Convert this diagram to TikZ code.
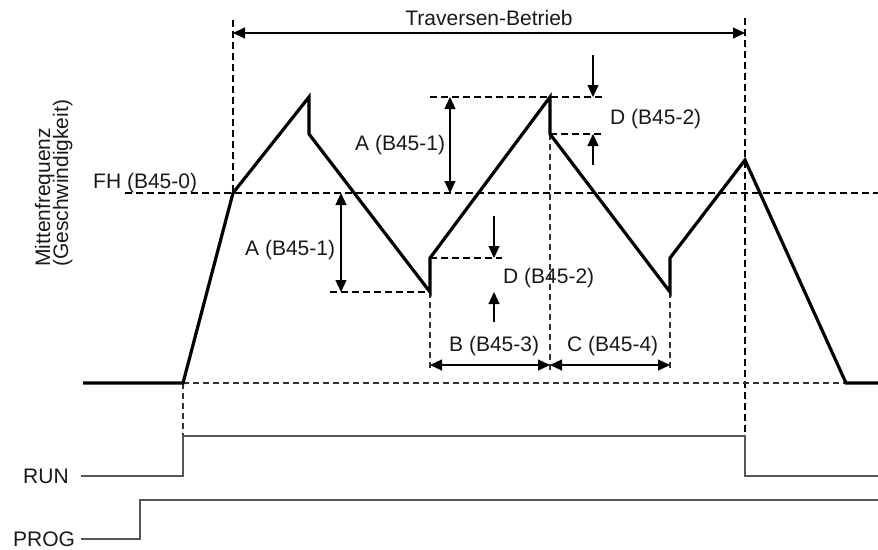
\documentclass[tikz,border=0pt]{standalone}
\usepackage{fontspec}
\setmainfont{Liberation Sans}
\usetikzlibrary{arrows.meta}
\definecolor{sig}{HTML}{555555}
\definecolor{dgrey}{HTML}{333333}
\tikzset{
  lbl/.style={inner sep=0pt, font=\fontsize{21}{23}\selectfont, text=black!90},
  curve/.style={line width=3.2pt, line join=miter, black},
  dsh/.style={line width=1.3pt, dash pattern=on 7pt off 4pt, black},
  dshthin/.style={line width=1.1pt, dash pattern=on 6pt off 4pt, dgrey},
  dim/.style={line width=1.2pt, black},
  tip/.tip={Triangle[length=12pt,width=11pt]},
  signal/.style={line width=1.3pt, sig},
}
\begin{document}
\begin{tikzpicture}[x=1pt,y=-1pt]
\useasboundingbox (0,0) rectangle (878,549);
% curve points
\coordinate (c0) at (83,383);
\coordinate (c1) at (183,383);
\coordinate (c2) at (233,193);
\coordinate (c3) at (309,97);
\coordinate (c4) at (309,134);
\coordinate (c5) at (430,292);
\coordinate (c6) at (430,258);
\coordinate (c7) at (550,97);
\coordinate (c8) at (550,134);
\coordinate (c9) at (670,292);
\coordinate (c10) at (670,258);
\coordinate (c11) at (745,160);
\coordinate (c12) at (846,383);
\coordinate (c13) at (878,383);
% helper coordinates
\coordinate (fhL) at (125,193);
\coordinate (fhR) at (878,193);
\coordinate (v1t) at (233,20);
\coordinate (v2t) at (745,18);
\coordinate (v2b) at (745,436);
\coordinate (v0b) at (183,436);
\coordinate (pkL) at (430,97);
\coordinate (pkR) at (605,97);
\coordinate (dpR) at (605,134);
\coordinate (bB) at (430,370);
\coordinate (mB) at (550,370);
\coordinate (cB) at (670,370);
\coordinate (lowR) at (502,258);
\coordinate (minL) at (330,292);
\coordinate (trL) at (233,33);
\coordinate (trR) at (745,33);
\coordinate (aU1) at (450,97);
\coordinate (aU2) at (450,193);
\coordinate (aL1) at (341,193);
\coordinate (aL2) at (341,292);
\coordinate (dU0) at (593,55);
\coordinate (dU1) at (593,97);
\coordinate (dU2) at (593,134);
\coordinate (dU3) at (593,165);
\coordinate (dL0) at (494,216);
\coordinate (dL1) at (494,258);
\coordinate (dL2) at (494,292);
\coordinate (dL3) at (494,322);
\coordinate (bL) at (430,365);
\coordinate (bM) at (550,365);
\coordinate (bR) at (670,365);
\coordinate (r0) at (81,476);
\coordinate (r1) at (183,476);
\coordinate (r2) at (183,436);
\coordinate (r3) at (745,436);
\coordinate (r4) at (745,476);
\coordinate (r5) at (878,476);
\coordinate (p0) at (81,539);
\coordinate (p1) at (140,539);
\coordinate (p2) at (140,500);
\coordinate (p3) at (878,500);

% dashed guide lines
\draw[dsh] (fhL) -- (fhR);
\draw[dsh] (v1t) -- (c2);
\draw[dsh] (v2t) -- (v2b);
\draw[dshthin] (c1) -- (c12);
\draw[dshthin] (c1) -- (v0b);
\draw[dsh] (pkL) -- (pkR);
\draw[dsh] (c8) -- (dpR);
\draw[dshthin] (c8) -- (mB);
\draw[dshthin] (c5) -- (bB);
\draw[dshthin] (c9) -- (cB);
\draw[dsh] (c6) -- (lowR);
\draw[dsh] (minL) -- (c5);

% main curve
\draw[curve] (c0) -- (c1) -- (c2) -- (c3) -- (c4) -- (c5) -- (c6) -- (c7) -- (c8)
  -- (c9) -- (c10) -- (c11) -- (c12) -- (c13);

% dimension arrows
\draw[dim, tip-tip] (trL) -- (trR);
\draw[dim, tip-tip] (aU1) -- (aU2);
\draw[dim, tip-tip] (aL1) -- (aL2);
\draw[dim, -tip] (dU0) -- (dU1);
\draw[dim, -tip] (dU3) -- (dU2);
\draw[dim, -tip] (dL0) -- (dL1);
\draw[dim, -tip] (dL3) -- (dL2);
\draw[dim, tip-tip] (bL) -- (bM);
\draw[dim, tip-tip] (bM) -- (bR);

% signals
\draw[signal] (r0) -- (r1) -- (r2) -- (r3) -- (r4) -- (r5);
\draw[signal] (p0) -- (p1) -- (p2) -- (p3);

% labels
\node[lbl, anchor=base] (trav) at (489,25) {Traversen-Betrieb};
\node[lbl, anchor=base west] (fh) at (93,188) {FH (B45-0)};
\node[lbl, anchor=base west] (au) at (355,150) {A (B45-1)};
\node[lbl, anchor=base west] (al) at (245,255) {A (B45-1)};
\node[lbl, anchor=base west] (du) at (610,124) {D (B45-2)};
\node[lbl, anchor=base west] (dl) at (503,283) {D (B45-2)};
\node[lbl, anchor=base west] (bl) at (449,351) {B (B45-3)};
\node[lbl, anchor=base west] (cl) at (567,351) {C (B45-4)};
\node[lbl, anchor=base west] (run) at (23,483) {RUN};
\node[lbl, anchor=base west] (prog) at (13,546) {PROG};
\node[lbl, rotate=90, anchor=base west] (mf) at (50,267) {Mittenfrequenz};
\node[lbl, rotate=90, anchor=base west] (gs) at (68,267) {(Geschwindigkeit)};
\end{tikzpicture}
\end{document}
